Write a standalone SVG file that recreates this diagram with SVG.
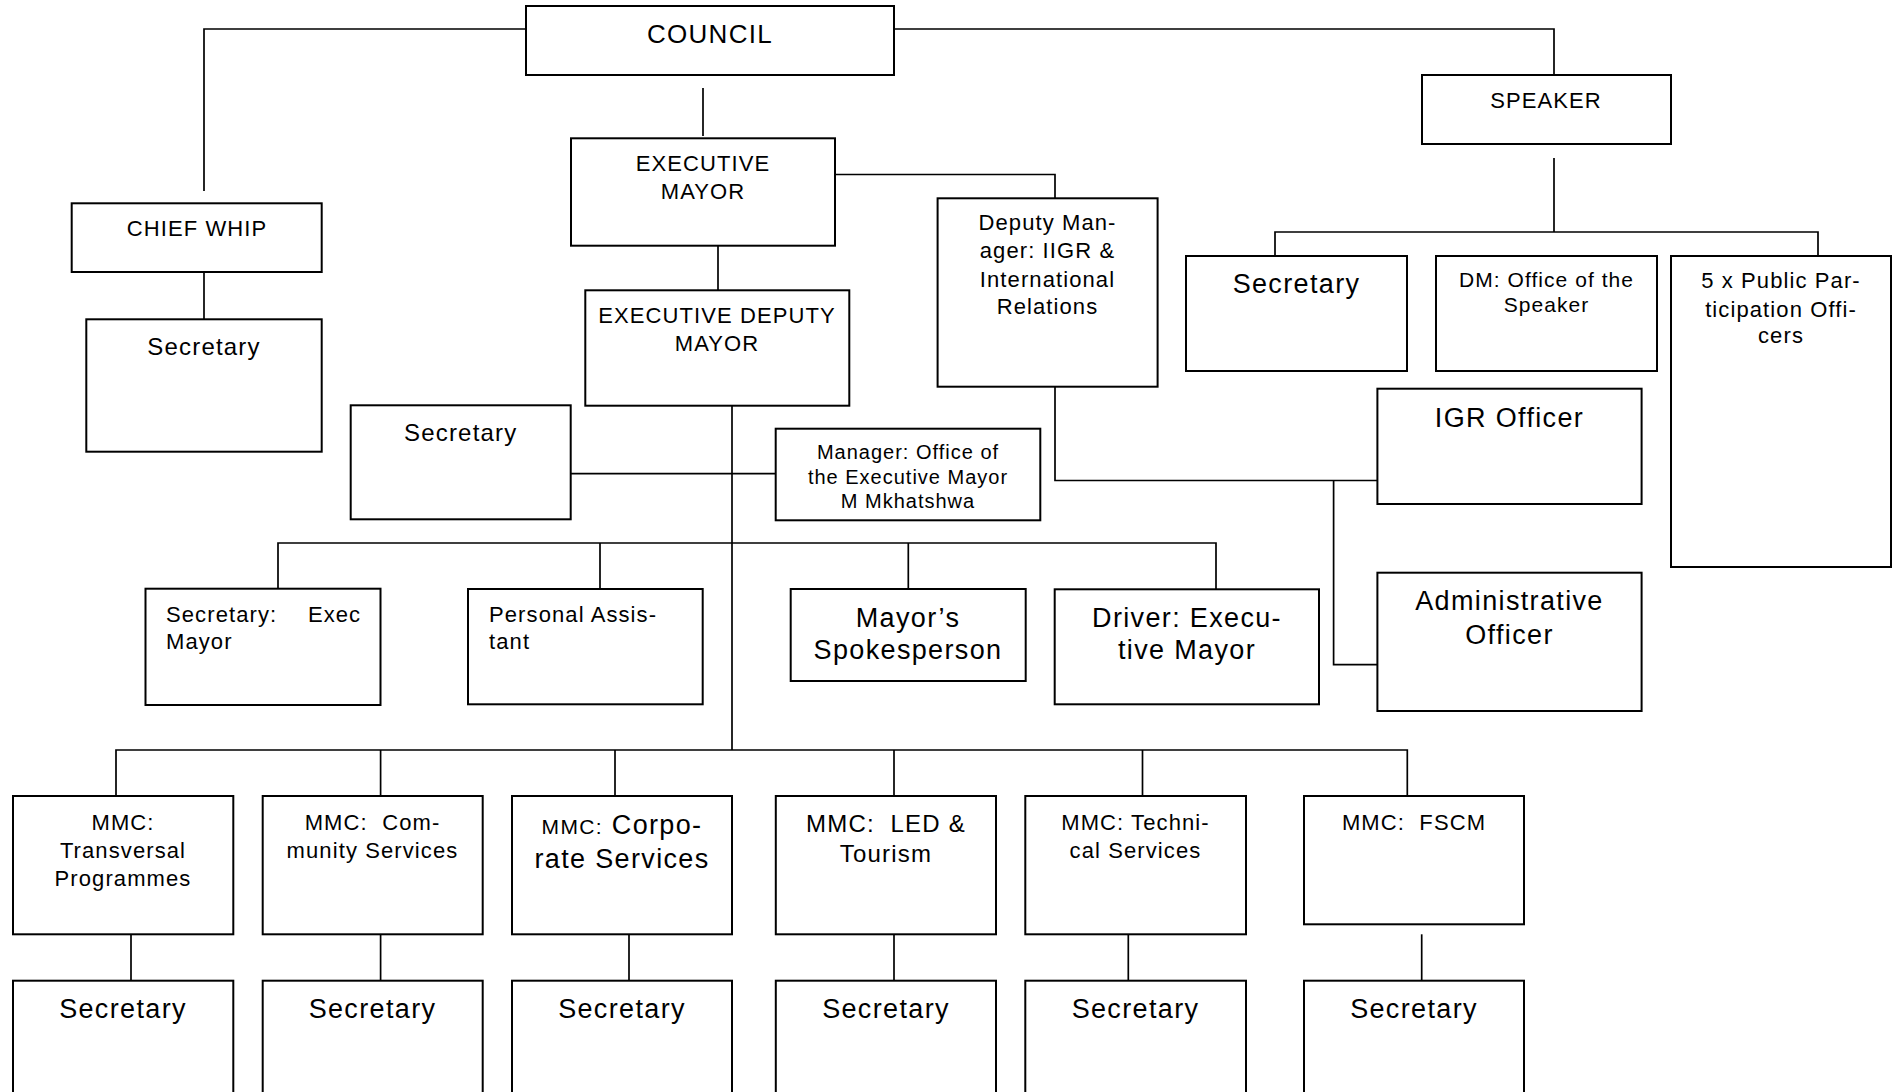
<svg xmlns="http://www.w3.org/2000/svg" width="1898" height="1092" viewBox="0 0 1898 1092">
<style>
.box{fill:#fff;stroke:#000;stroke-width:2}
.ln{fill:none;stroke:#000;stroke-width:1.7}
text{font-family:"Liberation Sans",Arial,sans-serif;fill:#000;letter-spacing:0.05em;white-space:pre}
.c{text-anchor:middle}
.f20{font-size:20px}.f21{font-size:21px}.f22{font-size:22px}.f24{font-size:24px}.f26{font-size:26px}.f27{font-size:27px}
</style>
<rect width="1898" height="1092" fill="#fff"/>
<g id="connectors" class="ln">
<path d="M526 29H204V191"/>
<path d="M894 29H1554V75"/>
<path d="M703 88V136"/>
<path d="M204 267V319"/>
<path d="M718 244V290"/>
<path d="M835 174.5H1055V198"/>
<path d="M1554 158V232"/>
<path d="M1275 256V232H1818V256"/>
<path d="M732 405.7V750"/>
<path d="M570.7 473.7H775.7"/>
<path d="M278 589V543H1216V589"/>
<path d="M600 543V589"/>
<path d="M908.3 543V589"/>
<path d="M116 796V750H1407.3V796"/>
<path d="M380.6 750V796"/>
<path d="M615 750V796"/>
<path d="M894 750V796"/>
<path d="M1142.5 750V796"/>
<path d="M131 934.3V980.7"/>
<path d="M380.6 934.3V980.7"/>
<path d="M629 934.3V980.7"/>
<path d="M894 934.3V980.7"/>
<path d="M1128.3 934.3V980.7"/>
<path d="M1421.7 934.3V980.7"/>
<path d="M1055 387V480.5H1377.4"/>
<path d="M1333.6 480.5V664.7H1377.4"/>
</g>
<g id="n-council"><rect class="box" x="526" y="6" width="368" height="69"/><text class="c f26" x="710" y="43.3">COUNCIL</text></g>
<g id="n-speaker"><rect class="box" x="1422" y="75" width="249" height="69"/><text class="c f22" x="1546" y="108">SPEAKER</text></g>
<g id="n-chief-whip"><rect class="box" x="71.7" y="203.3" width="250" height="68.7"/><text class="c f22" x="197" y="236">CHIEF WHIP</text></g>
<g id="n-cw-secretary"><rect class="box" x="86.3" y="319.3" width="235.4" height="132.4"/><text class="c f24" x="204" y="355">Secretary</text></g>
<g id="n-exec-mayor"><rect class="box" x="571" y="138.3" width="264" height="107.4"/><text class="c f22" x="703" y="171">EXECUTIVE</text><text class="c f22" x="703" y="199">MAYOR</text></g>
<g id="n-exec-deputy"><rect class="box" x="585.3" y="290.3" width="264" height="115.4"/><text class="c f22" x="717" y="322.7">EXECUTIVE DEPUTY</text><text class="c f22" x="717" y="350.7">MAYOR</text></g>
<g id="n-dm-iigr"><rect class="box" x="937.6" y="198.3" width="220" height="188.4"/><text class="c f22" x="1047.5"><tspan x="1047.5" y="230">Deputy Man-</tspan><tspan x="1047.5" y="258.3">ager: IIGR &amp;</tspan><tspan x="1047.5" y="286.7">International</tspan><tspan x="1047.5" y="314.3">Relations</tspan></text></g>
<g id="n-sp-secretary"><rect class="box" x="1186" y="256" width="221" height="115"/><text class="c f27" x="1296.5" y="293">Secretary</text></g>
<g id="n-dm-speaker"><rect class="box" x="1436" y="256" width="221" height="115"/><text class="c f21"><tspan x="1546.5" y="287.3">DM: Office of the</tspan><tspan x="1546.5" y="311.7">Speaker</tspan></text></g>
<g id="n-public"><rect class="box" x="1671" y="256" width="220" height="311"/><text class="c f22"><tspan x="1781" y="288.3">5 x Public Par-</tspan><tspan x="1781" y="316.7">ticipation Offi-</tspan><tspan x="1781" y="343.3">cers</tspan></text></g>
<g id="n-ed-secretary"><rect class="box" x="350.7" y="405.3" width="220" height="114"/><text class="c f24" x="460.7" y="440.7">Secretary</text></g>
<g id="n-mgr-office"><rect class="box" x="775.7" y="428.7" width="264.6" height="91.6"/><text class="c f20"><tspan x="908" y="459.3">Manager: Office of</tspan><tspan x="908" y="484">the Executive Mayor</tspan><tspan x="908" y="508.3">M Mkhatshwa</tspan></text></g>
<g id="n-igr"><rect class="box" x="1377.4" y="388.7" width="264.2" height="115.3"/><text class="c f27" x="1509.5" y="426.7">IGR Officer</text></g>
<g id="n-admin"><rect class="box" x="1377.4" y="572.7" width="264.2" height="138.3"/><text class="c f27"><tspan x="1509.5" y="610">Administrative</tspan><tspan x="1509.5" y="644.3">Officer</tspan></text></g>
<g id="n-sec-exec"><rect class="box" x="145.5" y="588.7" width="235" height="116.3"/><text class="f22"><tspan x="166" y="621.7">Secretary:</tspan><tspan x="307.9" y="621.7">Exec</tspan><tspan x="166" y="649.3">Mayor</tspan></text></g>
<g id="n-pa"><rect class="box" x="468" y="589" width="234.7" height="115.3"/><text class="f22"><tspan x="489" y="621.7">Personal Assis-</tspan><tspan x="489" y="649.3">tant</tspan></text></g>
<g id="n-spokes"><rect class="box" x="790.7" y="589" width="235" height="92"/><text class="c f27"><tspan x="908" y="626.7">Mayor’s</tspan><tspan x="908" y="659.3">Spokesperson</tspan></text></g>
<g id="n-driver"><rect class="box" x="1054.7" y="589.3" width="264.3" height="115"/><text class="c f27"><tspan x="1187" y="626.7">Driver: Execu-</tspan><tspan x="1187" y="659.3">tive Mayor</tspan></text></g>
<g id="n-mmc-transversal"><rect class="box" x="13" y="796" width="220.3" height="138.3"/><text class="c f22"><tspan x="123" y="830">MMC:</tspan><tspan x="123" y="857.7">Transversal</tspan><tspan x="123" y="886">Programmes</tspan></text></g>
<g id="n-mmc-community"><rect class="box" x="262.7" y="796" width="220" height="138.3"/><text class="c f22"><tspan x="372.5" y="830">MMC:  Com-</tspan><tspan x="372.5" y="857.7">munity Services</tspan></text></g>
<g id="n-mmc-corporate"><rect class="box" x="512" y="796" width="220" height="138.3"/><text class="c f27"><tspan x="622" y="834"><tspan class="f21">MMC:</tspan> Corpo-</tspan><tspan x="622" y="868.3">rate Services</tspan></text></g>
<g id="n-mmc-led"><rect class="box" x="775.8" y="796" width="220.2" height="138.3"/><text class="c f24"><tspan x="886" y="831.7">MMC:  LED &amp;</tspan><tspan x="886" y="861.7">Tourism</tspan></text></g>
<g id="n-mmc-technical"><rect class="box" x="1025.3" y="796" width="220.7" height="138.3"/><text class="c f22"><tspan x="1135.5" y="830">MMC: Techni-</tspan><tspan x="1135.5" y="857.7">cal Services</tspan></text></g>
<g id="n-mmc-fscm"><rect class="box" x="1304" y="796" width="220" height="128.3"/><text class="c f22" x="1414" y="830">MMC:  FSCM</text></g>
<g id="n-sec-1"><rect class="box" x="13" y="980.7" width="220.3" height="130"/><text class="c f27" x="123" y="1018.3">Secretary</text></g>
<g id="n-sec-2"><rect class="box" x="262.7" y="980.7" width="220" height="130"/><text class="c f27" x="372.5" y="1018.3">Secretary</text></g>
<g id="n-sec-3"><rect class="box" x="512" y="980.7" width="220" height="130"/><text class="c f27" x="622" y="1018.3">Secretary</text></g>
<g id="n-sec-4"><rect class="box" x="775.8" y="980.7" width="220.2" height="130"/><text class="c f27" x="886" y="1018.3">Secretary</text></g>
<g id="n-sec-5"><rect class="box" x="1025.3" y="980.7" width="220.7" height="130"/><text class="c f27" x="1135.5" y="1018.3">Secretary</text></g>
<g id="n-sec-6"><rect class="box" x="1304" y="980.7" width="220" height="130"/><text class="c f27" x="1414" y="1018.3">Secretary</text></g>
</svg>
